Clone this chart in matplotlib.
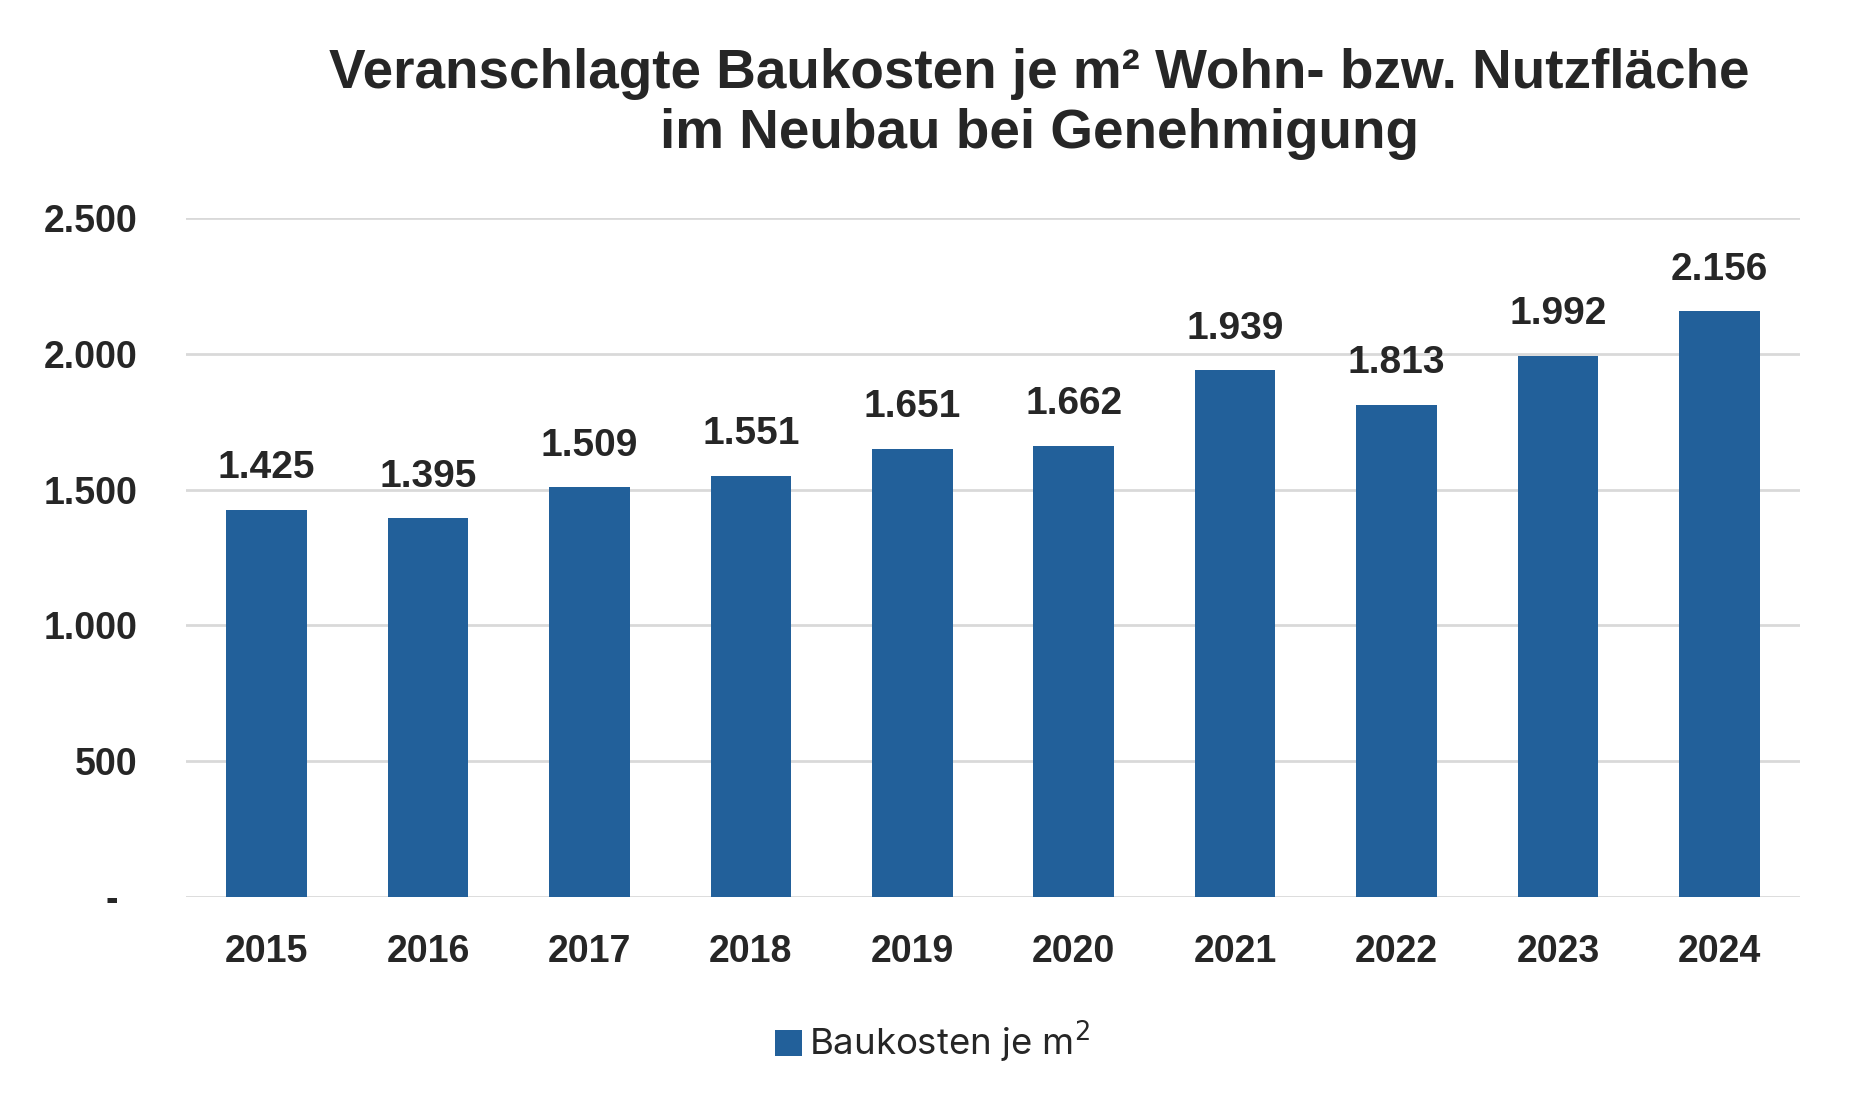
import matplotlib
matplotlib.use("Agg")
import matplotlib.pyplot as plt
from matplotlib.patches import Patch

# Baukosten je m2 (EUR), Genehmigungen 2015-2024
YEARS = ["2015", "2016", "2017", "2018", "2019", "2020", "2021", "2022", "2023", "2024"]
COSTS = [1425, 1395, 1509, 1551, 1651, 1662, 1939, 1813, 1992, 2156]
Y_TICKS = [0, 500, 1000, 1500, 2000, 2500]

TITLE_1 = "Veranschlagte Baukosten je m² Wohn- bzw. Nutzfläche"
TITLE_2 = "im Neubau bei Genehmigung"

BAR_COLOR = "#22609A"
TEXT_COLOR = "#262626"
GRID_COLOR = "#D9D9D9"

W, H = 1852, 1108

def de_fmt(v):
    """ German thousands separator, zero shown as dash like Excel accounting format """
    if v == 0:
        return "-\u2002"
    return f"{v:,.0f}".replace(",", ".")

fig = plt.figure(figsize=(W/100, H/100), dpi=100)
ax = fig.add_axes([186/W, 211/H, (1800-186)/W, (897-218)/H])

x = range(len(YEARS))
bars = ax.bar(x, COSTS, width=0.5, color=BAR_COLOR, zorder=3)

for b, v in zip(bars, COSTS):
    ax.annotate(de_fmt(v), (b.get_x() + b.get_width()/2, v), xytext=(0, 17),
                textcoords="offset points", ha="center", va="bottom",
                fontsize=28, fontweight="bold", family="Liberation Sans", color=TEXT_COLOR)

ax.set_xlim(-0.5, len(YEARS) - 0.5)
ax.set_ylim(0, 2500)
ax.set_yticks(Y_TICKS)
ax.set_yticklabels([de_fmt(v) for v in Y_TICKS])
ax.set_xticks(list(x))
ax.set_xticklabels(YEARS)
for lbl in ax.get_xticklabels() + ax.get_yticklabels():
    lbl.set_fontsize(27)
    lbl.set_fontweight("bold")
    lbl.set_family(["Liberation Sans", "DejaVu Sans"])
    lbl.set_color(TEXT_COLOR)
ax.tick_params(axis="both", length=0)
ax.tick_params(axis="x", pad=27)
ax.tick_params(axis="y", pad=35)

ax.grid(axis="y", color=GRID_COLOR, linewidth=2, zorder=0)
ax.set_axisbelow(True)
for s in ax.spines.values():
    s.set_visible(False)

# two title lines placed separately to control the spacing
fig.text(1039/W, 1 - 88/H, TITLE_1, ha="center", va="baseline", fontsize=39.5,
         fontweight="bold", family="Liberation Sans", color=TEXT_COLOR)
fig.text(1039/W, 1 - 148/H, TITLE_2, ha="center", va="baseline", fontsize=39.5,
         fontweight="bold", family="Liberation Sans", color=TEXT_COLOR)

handle = Patch(facecolor=BAR_COLOR, edgecolor="none")
fig.legend([handle], ["Baukosten je m$^2$"], loc="center", bbox_to_anchor=(932/W, 1 - 1042/H),
           frameon=False, prop={"family": "Inter", "size": 26.3}, labelcolor=TEXT_COLOR,
           handlelength=0.75, handleheight=0.75, handletextpad=0.18)

fig.savefig("out.png", dpi=100)
